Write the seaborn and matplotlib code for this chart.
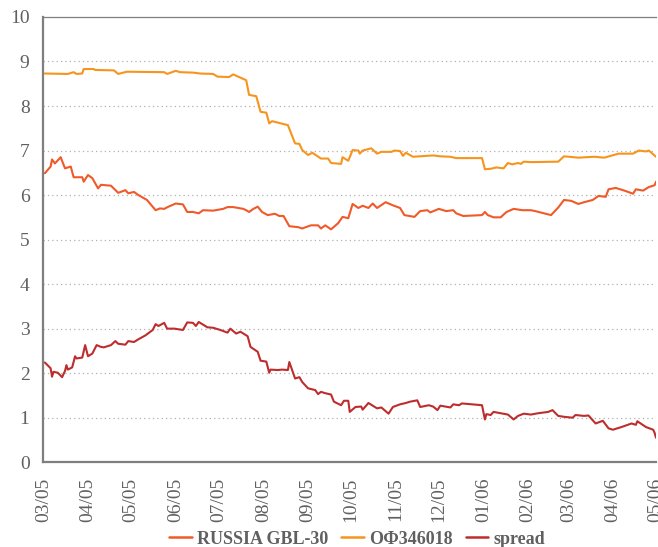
import matplotlib

matplotlib.use("Agg")
import matplotlib.dates as mdates
import matplotlib.pyplot as plt
import pandas as pd
import seaborn as sns

# yields, %
gbl_dates = [
    "2005-03-02", "2005-03-06", "2005-03-07", "2005-03-09", "2005-03-13", "2005-03-16",
    "2005-03-20", "2005-03-22", "2005-03-28", "2005-03-29", "2005-04-01", "2005-04-04",
    "2005-04-08", "2005-04-10", "2005-04-17", "2005-04-22", "2005-04-27", "2005-04-29",
    "2005-05-03", "2005-05-06", "2005-05-12", "2005-05-18", "2005-05-21", "2005-05-24",
    "2005-05-27", "2005-06-01", "2005-06-06", "2005-06-09", "2005-06-13", "2005-06-17",
    "2005-06-20", "2005-06-27", "2005-07-04", "2005-07-07", "2005-07-11", "2005-07-18",
    "2005-07-20", "2005-07-22", "2005-07-25", "2005-07-28", "2005-07-31", "2005-08-04",
    "2005-08-09", "2005-08-12", "2005-08-15", "2005-08-19", "2005-08-25", "2005-08-28",
    "2005-09-03", "2005-09-08", "2005-09-10", "2005-09-13", "2005-09-17", "2005-09-22",
    "2005-09-25", "2005-09-29", "2005-10-02", "2005-10-06", "2005-10-09", "2005-10-13",
    "2005-10-16", "2005-10-19", "2005-10-25", "2005-10-30", "2005-11-04", "2005-11-07",
    "2005-11-14", "2005-11-18", "2005-11-23", "2005-11-25", "2005-12-01", "2005-12-06",
    "2005-12-11", "2005-12-13", "2005-12-18", "2005-12-31", "2006-01-02", "2006-01-04",
    "2006-01-08", "2006-01-13", "2006-01-17", "2006-01-22", "2006-01-28", "2006-02-03",
    "2006-02-06", "2006-02-17", "2006-02-22", "2006-02-26", "2006-03-03", "2006-03-08",
    "2006-03-12", "2006-03-18", "2006-03-22", "2006-03-27", "2006-03-29", "2006-04-03",
    "2006-04-09", "2006-04-15", "2006-04-17", "2006-04-22", "2006-04-26", "2006-04-30",
    "2006-05-01",
]
gbl_values = [
    6.49, 6.64, 6.80, 6.71, 6.85, 6.60,
    6.64, 6.40, 6.40, 6.30, 6.45, 6.38,
    6.15, 6.23, 6.21, 6.05, 6.11, 6.04,
    6.07, 6.00, 5.89, 5.66, 5.70, 5.69,
    5.74, 5.81, 5.79, 5.62, 5.62, 5.59,
    5.66, 5.65, 5.69, 5.73, 5.73, 5.69,
    5.66, 5.62, 5.69, 5.74, 5.62, 5.55,
    5.58, 5.53, 5.53, 5.30, 5.28, 5.25,
    5.32, 5.32, 5.25, 5.32, 5.23, 5.37,
    5.51, 5.48, 5.80, 5.71, 5.76, 5.71,
    5.81, 5.71, 5.84, 5.77, 5.71, 5.55,
    5.51, 5.64, 5.66, 5.61, 5.69, 5.64,
    5.66, 5.59, 5.53, 5.55, 5.62, 5.55,
    5.50, 5.50, 5.62, 5.69, 5.66, 5.66,
    5.64, 5.55, 5.72, 5.89, 5.87, 5.80,
    5.84, 5.89, 5.98, 5.96, 6.13, 6.16,
    6.10, 6.03, 6.13, 6.10, 6.18, 6.22,
    6.30,
]

ofz_dates = [
    "2005-03-02", "2005-03-18", "2005-03-22", "2005-03-24", "2005-03-28", "2005-03-29",
    "2005-04-05", "2005-04-06", "2005-04-19", "2005-04-22", "2005-04-28", "2005-05-24",
    "2005-05-26", "2005-06-01", "2005-06-04", "2005-06-13", "2005-06-18", "2005-06-27",
    "2005-06-30", "2005-07-08", "2005-07-11", "2005-07-13", "2005-07-20", "2005-07-22",
    "2005-07-27", "2005-07-30", "2005-08-03", "2005-08-05", "2005-08-07", "2005-08-18",
    "2005-08-23", "2005-08-26", "2005-08-28", "2005-09-01", "2005-09-04", "2005-09-10",
    "2005-09-15", "2005-09-17", "2005-09-24", "2005-09-25", "2005-09-29", "2005-10-02",
    "2005-10-06", "2005-10-07", "2005-10-09", "2005-10-15", "2005-10-19", "2005-10-22",
    "2005-10-29", "2005-10-31", "2005-11-04", "2005-11-06", "2005-11-08", "2005-11-13",
    "2005-11-27", "2005-12-02", "2005-12-09", "2005-12-13", "2005-12-31", "2006-01-02",
    "2006-01-06", "2006-01-10", "2006-01-15", "2006-01-18", "2006-01-21", "2006-01-25",
    "2006-01-27", "2006-01-29", "2006-02-03", "2006-02-22", "2006-02-26", "2006-03-08",
    "2006-03-19", "2006-03-26", "2006-04-05", "2006-04-15", "2006-04-19", "2006-04-24",
    "2006-04-26", "2006-05-01",
]
ofz_values = [
    8.73, 8.72, 8.76, 8.72, 8.73, 8.83,
    8.83, 8.81, 8.80, 8.72, 8.77, 8.76,
    8.72, 8.79, 8.76, 8.75, 8.73, 8.72,
    8.66, 8.65, 8.71, 8.68, 8.58, 8.25,
    8.22, 7.87, 7.85, 7.61, 7.66, 7.57,
    7.16, 7.15, 7.01, 6.90, 6.95, 6.82,
    6.82, 6.72, 6.70, 6.85, 6.77, 7.01,
    7.00, 6.93, 7.00, 7.05, 6.93, 6.97,
    6.97, 7.00, 6.99, 6.88, 6.95, 6.86,
    6.89, 6.87, 6.86, 6.83, 6.83, 6.58,
    6.59, 6.62, 6.60, 6.72, 6.69, 6.72,
    6.70, 6.75, 6.74, 6.75, 6.87, 6.84,
    6.86, 6.84, 6.93, 6.93, 7.00, 6.98,
    7.00, 6.86,
]

spread_dates = [
    "2005-03-02", "2005-03-06", "2005-03-07", "2005-03-08", "2005-03-11", "2005-03-14",
    "2005-03-16", "2005-03-17", "2005-03-18", "2005-03-21", "2005-03-23", "2005-03-24",
    "2005-03-28", "2005-03-30", "2005-04-01", "2005-04-04", "2005-04-07", "2005-04-10",
    "2005-04-12", "2005-04-17", "2005-04-20", "2005-04-22", "2005-04-27", "2005-04-29",
    "2005-05-03", "2005-05-06", "2005-05-11", "2005-05-16", "2005-05-18", "2005-05-20",
    "2005-05-24", "2005-05-26", "2005-05-31", "2005-06-06", "2005-06-09", "2005-06-13",
    "2005-06-15", "2005-06-17", "2005-06-23", "2005-06-27", "2005-07-02", "2005-07-07",
    "2005-07-09", "2005-07-13", "2005-07-16", "2005-07-21", "2005-07-23", "2005-07-28",
    "2005-07-30", "2005-08-03", "2005-08-05", "2005-08-06", "2005-08-11", "2005-08-14",
    "2005-08-18", "2005-08-19", "2005-08-23", "2005-08-26", "2005-08-28", "2005-09-01",
    "2005-09-06", "2005-09-08", "2005-09-10", "2005-09-13", "2005-09-17", "2005-09-19",
    "2005-09-24", "2005-09-26", "2005-09-29", "2005-09-30", "2005-10-04", "2005-10-08",
    "2005-10-09", "2005-10-13", "2005-10-19", "2005-10-22", "2005-10-27", "2005-10-30",
    "2005-11-04", "2005-11-08", "2005-11-11", "2005-11-16", "2005-11-18", "2005-11-24",
    "2005-11-27", "2005-11-30", "2005-12-02", "2005-12-09", "2005-12-11", "2005-12-15",
    "2005-12-17", "2005-12-31", "2006-01-02", "2006-01-03", "2006-01-06", "2006-01-08",
    "2006-01-13", "2006-01-18", "2006-01-22", "2006-01-25", "2006-01-29", "2006-02-03",
    "2006-02-08", "2006-02-15", "2006-02-18", "2006-02-22", "2006-02-26", "2006-03-04",
    "2006-03-06", "2006-03-12", "2006-03-15", "2006-03-20", "2006-03-25", "2006-03-29",
    "2006-04-01", "2006-04-07", "2006-04-14", "2006-04-17", "2006-04-18", "2006-04-24",
    "2006-04-29", "2006-04-30", "2006-05-01",
]
spread_values = [
    2.24, 2.11, 1.92, 2.03, 2.01, 1.91,
    2.05, 2.18, 2.08, 2.13, 2.38, 2.33,
    2.35, 2.63, 2.38, 2.44, 2.63, 2.59,
    2.58, 2.63, 2.72, 2.66, 2.64, 2.72,
    2.70, 2.76, 2.85, 2.97, 3.10, 3.06,
    3.13, 3.00, 3.00, 2.97, 3.14, 3.13,
    3.06, 3.15, 3.03, 3.02, 2.97, 2.91,
    3.00, 2.89, 2.93, 2.83, 2.59, 2.48,
    2.28, 2.26, 2.01, 2.08, 2.07, 2.08,
    2.07, 2.25, 1.88, 1.91, 1.80, 1.66,
    1.62, 1.53, 1.58, 1.55, 1.52, 1.36,
    1.28, 1.38, 1.38, 1.13, 1.24, 1.25,
    1.18, 1.33, 1.21, 1.23, 1.09, 1.24,
    1.30, 1.33, 1.36, 1.39, 1.24, 1.28,
    1.25, 1.17, 1.27, 1.23, 1.30, 1.28,
    1.32, 1.28, 0.96, 1.08, 1.06, 1.13,
    1.10, 1.07, 0.96, 1.04, 1.09, 1.07,
    1.10, 1.13, 1.17, 1.04, 1.02, 1.00,
    1.06, 1.04, 1.05, 0.87, 0.93, 0.76,
    0.73, 0.79, 0.87, 0.84, 0.92, 0.79,
    0.73, 0.66, 0.55,
]

series_names = ["RUSSIA GBL-30", "ОФ346018", "spread"]
series_colors = ["#F05A28", "#F7941D", "#BE2D2D"]

df = pd.concat([
    pd.DataFrame({"date": pd.to_datetime(gbl_dates), "value": gbl_values, "series": series_names[0]}),
    pd.DataFrame({"date": pd.to_datetime(ofz_dates), "value": ofz_values, "series": series_names[1]}),
    pd.DataFrame({"date": pd.to_datetime(spread_dates), "value": spread_values, "series": series_names[2]}),
])

sns.set_style("white")
plt.rcParams["font.family"] = ["Liberation Serif", "DejaVu Serif"]
text_color = "#606060"
axis_color = "#7F7F7F"

fig = plt.figure(figsize=(6.58, 5.47), dpi=100)
ax = fig.add_axes([0.066, 0.155, 0.931, 0.814])

sns.lineplot(
    data=df, x="date", y="value", hue="series",
    hue_order=series_names, palette=series_colors,
    linewidth=1.5, legend=False, ax=ax,
)

ax.set_ylim(0, 10)
ax.set_yticks(range(0, 11))
ax.set_xlim(pd.Timestamp("2005-03-01"), pd.Timestamp("2006-05-01"))
ax.xaxis.set_major_locator(mdates.MonthLocator())
ax.xaxis.set_major_formatter(mdates.DateFormatter("%m/%y"))
ax.set_xlabel("")
ax.set_ylabel("")

for y in range(1, 10):
    ax.axhline(y, color="#B0B0B0", lw=0.9, ls=(0, (1, 2.5)), zorder=0)

ax.tick_params(axis="y", length=0, pad=10, labelsize=14, labelcolor=text_color)
ax.tick_params(axis="x", direction="in", length=5, width=1, color=axis_color,
               pad=11, labelsize=14, labelcolor=text_color, labelrotation=90)

for side in ["left", "bottom"]:
    ax.spines[side].set_color(axis_color)
    ax.spines[side].set_linewidth(1.6)
ax.spines["top"].set_color(axis_color)
ax.spines["top"].set_linewidth(0.9)
ax.spines["right"].set_visible(False)

handles = [plt.Line2D([], [], color=c, lw=1.8) for c in series_colors]
fig.legend(
    handles, series_names, loc="lower center", bbox_to_anchor=(0.543, -0.031),
    ncol=3, frameon=False, handlelength=1.25, handletextpad=0.3, columnspacing=0.7,
    prop={"weight": "bold", "size": 13}, labelcolor=text_color,
)

fig.savefig("out.png", dpi=100)
plt.close(fig)
